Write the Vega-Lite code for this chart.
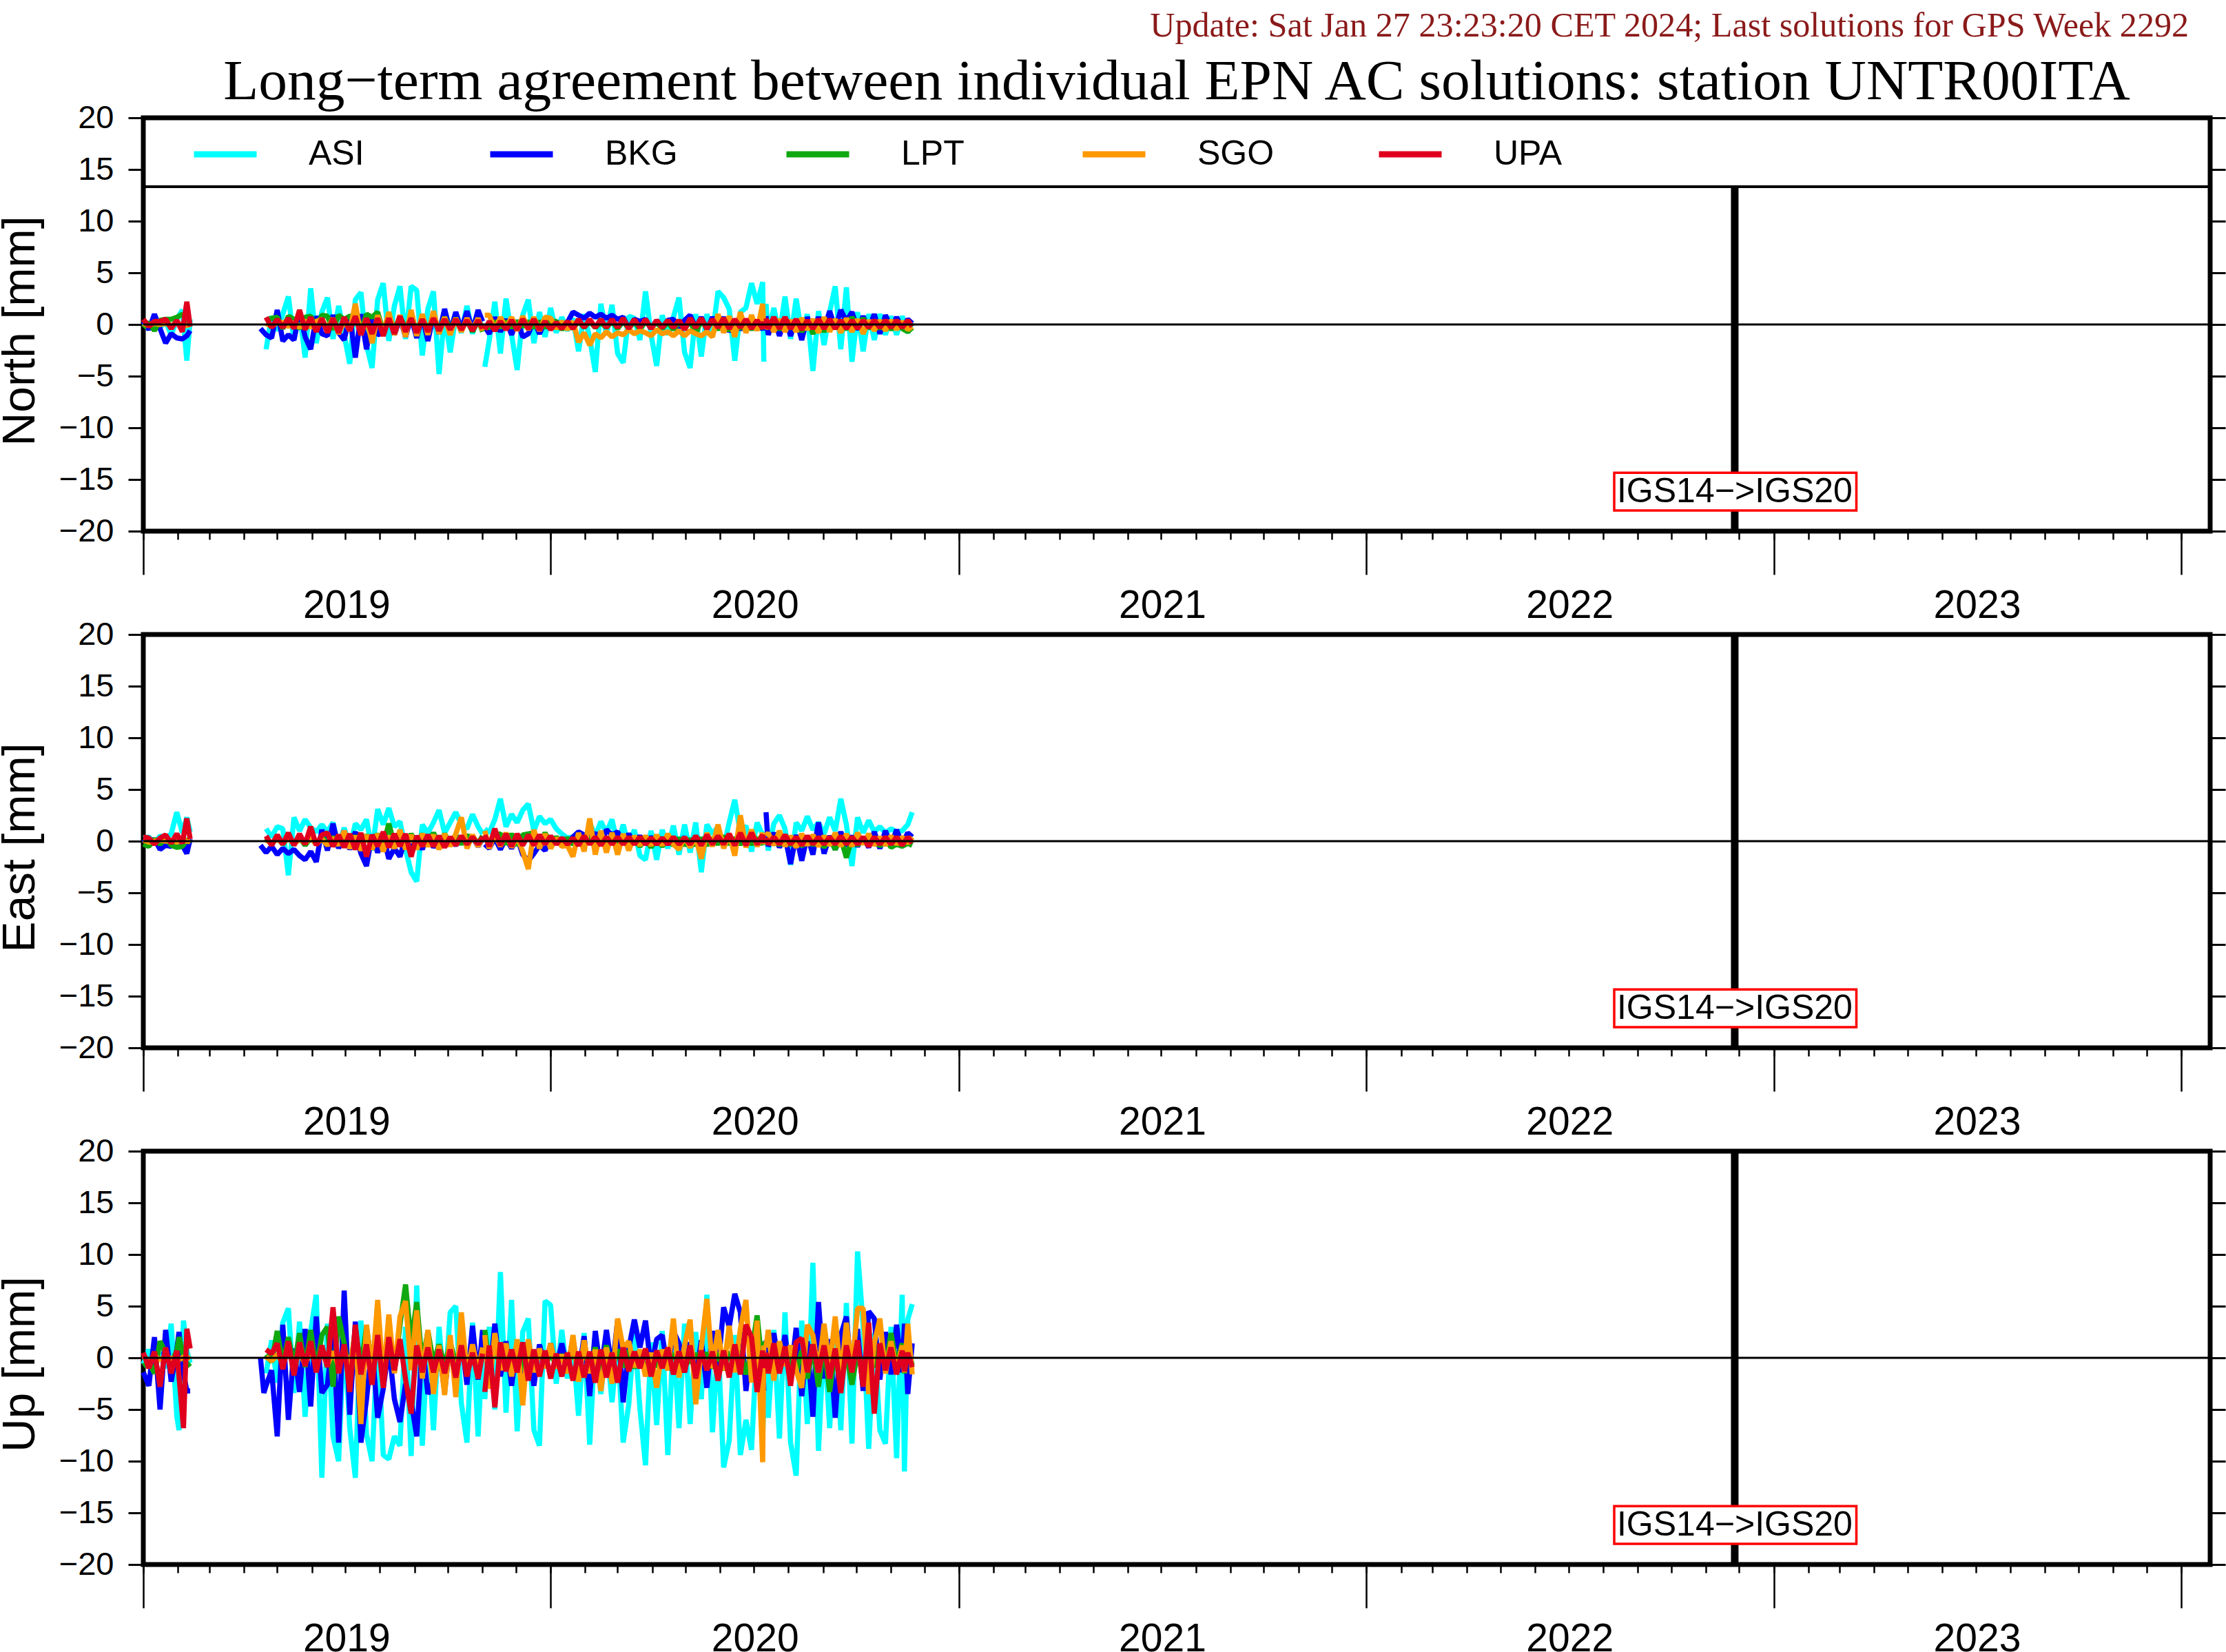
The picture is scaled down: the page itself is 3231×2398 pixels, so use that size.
{
"$schema":"https://vega.github.io/schema/vega-lite/v6.json",
"autosize":{"type":"none"},
"bounds":"flush",
"padding":{"left":208,"top":171,"right":3023,"bottom":2227},
"background":"white",
"config":{"view":{"stroke":"black","strokeWidth":7},"axis":{"grid":false,"domain":false,"tickColor":"black","labelColor":"black"},"font":"Liberation Sans"},
"spacing":150,
"resolve":{"legend":{"color":"independent"}},
"datasets":{
"box":[{"t":"2022-08-11","t2":"2023-03-16","mm":-14.35,"mm2":-18,"x0":"2022-11-27","y0":-16.2,"label":"IGS14−>IGS20"}],
"north":[
{"t":"2019-01-01","ASI":0.2,"BKG":0.3,"LPT":-0.3,"SGO":0.1,"UPA":0.5},
{"t":"2019-01-06","ASI":-0.2,"BKG":-0.5,"LPT":0.2,"SGO":-0.1,"UPA":-0.2},
{"t":"2019-01-11","ASI":0.3,"BKG":1,"LPT":-0.6,"SGO":0.1,"UPA":0.3},
{"t":"2019-01-16","ASI":-0.3,"BKG":-0.4,"LPT":0.4,"SGO":0,"UPA":0.3},
{"t":"2019-01-21","ASI":0.3,"BKG":-1.8,"LPT":0.5,"SGO":0.1,"UPA":0.5},
{"t":"2019-01-26","ASI":-1,"BKG":-0.9,"LPT":0.5,"SGO":-0.1,"UPA":-0.4},
{"t":"2019-01-31","ASI":0.5,"BKG":-1.3,"LPT":0.7,"SGO":0.1,"UPA":0.4},
{"t":"2019-02-05","ASI":1.4,"BKG":-1.4,"LPT":1,"SGO":0,"UPA":-0.7},
{"t":"2019-02-09","ASI":-3.5,"BKG":-1.1,"LPT":0.4,"SGO":-0.1,"UPA":2.2},
{"t":"2019-02-12","ASI":0.5,"BKG":-0.6,"LPT":0.2,"SGO":0,"UPA":-0.2},
{"t":"2019-03-01","ASI":null,"BKG":null,"LPT":null,"SGO":null,"UPA":null},
{"t":"2019-04-16","ASI":null,"BKG":-0.4,"LPT":null,"SGO":null,"UPA":null},
{"t":"2019-04-21","ASI":-2.4,"BKG":-1,"LPT":0.4,"SGO":0.1,"UPA":0.7},
{"t":"2019-04-26","ASI":0.8,"BKG":-1.3,"LPT":0.6,"SGO":-0.2,"UPA":-0.3},
{"t":"2019-05-01","ASI":-0.6,"BKG":1.4,"LPT":0.7,"SGO":0.2,"UPA":0.5},
{"t":"2019-05-06","ASI":1,"BKG":-1.6,"LPT":-0.4,"SGO":0.2,"UPA":-0.3},
{"t":"2019-05-11","ASI":2.7,"BKG":-1,"LPT":0.8,"SGO":-0.2,"UPA":0.6},
{"t":"2019-05-16","ASI":-1.5,"BKG":-1.5,"LPT":0.5,"SGO":0.2,"UPA":-0.4},
{"t":"2019-05-21","ASI":1.2,"BKG":1.2,"LPT":-0.4,"SGO":-0.3,"UPA":1.4},
{"t":"2019-05-26","ASI":-3.2,"BKG":-1.2,"LPT":0.7,"SGO":0.4,"UPA":-0.5},
{"t":"2019-05-31","ASI":3.5,"BKG":-2.4,"LPT":0.8,"SGO":-0.3,"UPA":0.7},
{"t":"2019-06-05","ASI":-1.8,"BKG":0.8,"LPT":-0.3,"SGO":0.3,"UPA":-0.7},
{"t":"2019-06-10","ASI":1.2,"BKG":-0.9,"LPT":0.9,"SGO":0.5,"UPA":0.6},
{"t":"2019-06-15","ASI":2.6,"BKG":-1.1,"LPT":0.8,"SGO":-0.4,"UPA":-0.8},
{"t":"2019-06-20","ASI":-1.4,"BKG":0.9,"LPT":-0.5,"SGO":0.6,"UPA":0.6},
{"t":"2019-06-25","ASI":1.8,"BKG":-0.8,"LPT":0.9,"SGO":-0.9,"UPA":-0.8},
{"t":"2019-06-30","ASI":-1,"BKG":-1.5,"LPT":0.5,"SGO":0.4,"UPA":0.7},
{"t":"2019-07-05","ASI":-3.8,"BKG":0.9,"LPT":0.8,"SGO":-0.6,"UPA":-0.6},
{"t":"2019-07-10","ASI":2.4,"BKG":-3.2,"LPT":0.7,"SGO":2,"UPA":0.8},
{"t":"2019-07-15","ASI":3.1,"BKG":1,"LPT":-0.6,"SGO":-1,"UPA":-1},
{"t":"2019-07-20","ASI":-2,"BKG":-2.4,"LPT":1,"SGO":0.6,"UPA":0.6},
{"t":"2019-07-25","ASI":-4.2,"BKG":0.7,"LPT":0.7,"SGO":-1.8,"UPA":-0.9},
{"t":"2019-07-30","ASI":2.4,"BKG":-1,"LPT":1.2,"SGO":0.9,"UPA":0.6},
{"t":"2019-08-04","ASI":4,"BKG":-0.8,"LPT":-0.7,"SGO":-0.9,"UPA":-1.1},
{"t":"2019-08-09","ASI":-1.6,"BKG":0.8,"LPT":0.9,"SGO":1.2,"UPA":0.6},
{"t":"2019-08-14","ASI":1.8,"BKG":-1,"LPT":-0.5,"SGO":-1,"UPA":-0.9},
{"t":"2019-08-19","ASI":3.7,"BKG":0.6,"LPT":0.8,"SGO":0.9,"UPA":0.8},
{"t":"2019-08-24","ASI":-1.4,"BKG":-1.2,"LPT":-0.4,"SGO":-1.2,"UPA":-0.7},
{"t":"2019-08-29","ASI":3.7,"BKG":0.7,"LPT":0.7,"SGO":1.4,"UPA":0.6},
{"t":"2019-09-03","ASI":3.3,"BKG":-1.3,"LPT":-0.6,"SGO":-1.1,"UPA":-0.8},
{"t":"2019-09-08","ASI":-3,"BKG":0.8,"LPT":0.6,"SGO":1,"UPA":0.5},
{"t":"2019-09-13","ASI":1.5,"BKG":-1.6,"LPT":-0.5,"SGO":-1,"UPA":-0.7},
{"t":"2019-09-18","ASI":3.2,"BKG":0.9,"LPT":0.6,"SGO":1.3,"UPA":0.6},
{"t":"2019-09-23","ASI":-4.8,"BKG":-0.9,"LPT":-0.5,"SGO":-0.9,"UPA":-0.6},
{"t":"2019-09-28","ASI":1,"BKG":1.5,"LPT":0.7,"SGO":0.7,"UPA":0.5},
{"t":"2019-10-03","ASI":-2.7,"BKG":-0.7,"LPT":-0.4,"SGO":-1,"UPA":-0.5},
{"t":"2019-10-08","ASI":0.8,"BKG":1.2,"LPT":0.6,"SGO":0.6,"UPA":0.5},
{"t":"2019-10-13","ASI":-0.8,"BKG":-0.5,"LPT":-0.5,"SGO":-0.7,"UPA":-0.5},
{"t":"2019-10-18","ASI":1.8,"BKG":1.3,"LPT":0.4,"SGO":0.6,"UPA":0.4},
{"t":"2019-10-23","ASI":-0.9,"BKG":-0.6,"LPT":-0.7,"SGO":-0.5,"UPA":-0.6},
{"t":"2019-10-28","ASI":1,"BKG":1.4,"LPT":0.4,"SGO":0.6,"UPA":0.4},
{"t":"2019-11-01","ASI":-0.6,"BKG":0.3,"LPT":-0.7,"SGO":-0.6,"UPA":-0.4},
{"t":"2019-11-02","ASI":null,"BKG":null,"LPT":null,"SGO":null,"UPA":null},
{"t":"2019-11-03","ASI":-4.1,"BKG":-0.2,"LPT":-0.2,"SGO":0.9,"UPA":-0.5},
{"t":"2019-11-07","ASI":-1.5,"BKG":-0.9,"LPT":-0.3,"SGO":0.9,"UPA":0.3},
{"t":"2019-11-12","ASI":2.2,"BKG":0.7,"LPT":0.3,"SGO":-0.5,"UPA":-0.6},
{"t":"2019-11-17","ASI":-2.8,"BKG":-0.7,"LPT":-0.3,"SGO":0.7,"UPA":0.3},
{"t":"2019-11-22","ASI":2.5,"BKG":0.5,"LPT":0.3,"SGO":-0.4,"UPA":-0.5},
{"t":"2019-11-27","ASI":-1,"BKG":-1,"LPT":-0.3,"SGO":0.7,"UPA":0.4},
{"t":"2019-12-02","ASI":-4.4,"BKG":0.4,"LPT":0.3,"SGO":-0.6,"UPA":-0.5},
{"t":"2019-12-07","ASI":0.9,"BKG":-1.2,"LPT":-0.2,"SGO":0.8,"UPA":0.5},
{"t":"2019-12-12","ASI":2.4,"BKG":-0.9,"LPT":0.3,"SGO":-0.5,"UPA":-0.4},
{"t":"2019-12-17","ASI":-1.8,"BKG":0.4,"LPT":-0.3,"SGO":0.7,"UPA":0.5},
{"t":"2019-12-22","ASI":1.2,"BKG":-0.9,"LPT":0.3,"SGO":-0.6,"UPA":-0.5},
{"t":"2019-12-27","ASI":-1.2,"BKG":0.3,"LPT":-0.3,"SGO":0.7,"UPA":0.3},
{"t":"2020-01-01","ASI":1.6,"BKG":-0.4,"LPT":0.3,"SGO":0.6,"UPA":-0.5},
{"t":"2020-01-06","ASI":-0.8,"BKG":0.3,"LPT":0.3,"SGO":-0.4,"UPA":0.2},
{"t":"2020-01-11","ASI":0.7,"BKG":-0.3,"LPT":-0.5,"SGO":0.3,"UPA":-0.4},
{"t":"2020-01-16","ASI":-0.6,"BKG":0.2,"LPT":0.2,"SGO":-0.5,"UPA":0.3},
{"t":"2020-01-21","ASI":0.6,"BKG":1.2,"LPT":-0.4,"SGO":0.3,"UPA":-0.4},
{"t":"2020-01-26","ASI":-2.6,"BKG":0.9,"LPT":0.3,"SGO":-1.7,"UPA":0.5},
{"t":"2020-01-31","ASI":1,"BKG":0.6,"LPT":-0.3,"SGO":-0.8,"UPA":-0.3},
{"t":"2020-02-05","ASI":-1.3,"BKG":1.1,"LPT":0.3,"SGO":-2,"UPA":0.5},
{"t":"2020-02-10","ASI":-4.6,"BKG":0.7,"LPT":-0.3,"SGO":-0.9,"UPA":-0.3},
{"t":"2020-02-15","ASI":2,"BKG":1,"LPT":0.2,"SGO":-1.3,"UPA":0.5},
{"t":"2020-02-20","ASI":-1,"BKG":0.6,"LPT":-0.3,"SGO":-0.7,"UPA":-0.3},
{"t":"2020-02-25","ASI":1.9,"BKG":0.9,"LPT":0.3,"SGO":-1.2,"UPA":0.5},
{"t":"2020-03-01","ASI":-2.8,"BKG":0.5,"LPT":-0.4,"SGO":-0.8,"UPA":-0.3},
{"t":"2020-03-06","ASI":-3.7,"BKG":0.7,"LPT":0.3,"SGO":-1,"UPA":0.6},
{"t":"2020-03-11","ASI":0.8,"BKG":-0.4,"LPT":-0.4,"SGO":-0.5,"UPA":-0.4},
{"t":"2020-03-16","ASI":0.6,"BKG":0.5,"LPT":0.3,"SGO":-0.9,"UPA":0.5},
{"t":"2020-03-21","ASI":-1.5,"BKG":0.3,"LPT":-0.5,"SGO":-0.6,"UPA":-0.3},
{"t":"2020-03-26","ASI":3.2,"BKG":0.5,"LPT":0.3,"SGO":-0.8,"UPA":0.5},
{"t":"2020-03-31","ASI":-1,"BKG":-0.4,"LPT":-0.3,"SGO":-1.1,"UPA":-0.4},
{"t":"2020-04-05","ASI":-4,"BKG":0.4,"LPT":0.2,"SGO":-0.5,"UPA":0.4},
{"t":"2020-04-10","ASI":0.9,"BKG":-0.3,"LPT":-0.4,"SGO":-0.9,"UPA":-0.3},
{"t":"2020-04-15","ASI":-1,"BKG":0.4,"LPT":0.2,"SGO":-0.7,"UPA":0.4},
{"t":"2020-04-20","ASI":0.7,"BKG":0.5,"LPT":-0.5,"SGO":-1.1,"UPA":-0.3},
{"t":"2020-04-25","ASI":2.6,"BKG":-0.3,"LPT":0.2,"SGO":-0.6,"UPA":0.4},
{"t":"2020-04-30","ASI":-2.7,"BKG":0.4,"LPT":-0.4,"SGO":-1.1,"UPA":-0.5},
{"t":"2020-05-05","ASI":-4.2,"BKG":0.9,"LPT":0.3,"SGO":-0.6,"UPA":0.6},
{"t":"2020-05-10","ASI":1,"BKG":-0.3,"LPT":-0.9,"SGO":-0.9,"UPA":-0.3},
{"t":"2020-05-15","ASI":-3.1,"BKG":0.7,"LPT":0.4,"SGO":-1.1,"UPA":0.6},
{"t":"2020-05-20","ASI":1,"BKG":-0.5,"LPT":-0.4,"SGO":-0.7,"UPA":-0.4},
{"t":"2020-05-25","ASI":-1,"BKG":0.7,"LPT":0.3,"SGO":-1.2,"UPA":0.5},
{"t":"2020-05-30","ASI":3.2,"BKG":-0.4,"LPT":-0.5,"SGO":1,"UPA":-0.3},
{"t":"2020-06-04","ASI":2.6,"BKG":0.7,"LPT":0.3,"SGO":-0.8,"UPA":0.6},
{"t":"2020-06-09","ASI":1.5,"BKG":-0.7,"LPT":-0.6,"SGO":0.8,"UPA":-0.4},
{"t":"2020-06-14","ASI":-3.5,"BKG":0.4,"LPT":0.2,"SGO":-1.2,"UPA":0.5},
{"t":"2020-06-19","ASI":1.2,"BKG":-0.5,"LPT":-0.4,"SGO":1.2,"UPA":-0.3},
{"t":"2020-06-24","ASI":1.6,"BKG":0.3,"LPT":0.3,"SGO":-0.8,"UPA":0.5},
{"t":"2020-06-29","ASI":4,"BKG":-0.4,"LPT":-0.5,"SGO":0.9,"UPA":-0.4},
{"t":"2020-07-04","ASI":2,"BKG":0.3,"LPT":0.3,"SGO":-0.6,"UPA":0.4},
{"t":"2020-07-09","ASI":4.1,"BKG":-0.5,"LPT":-0.4,"SGO":2,"UPA":-0.4},
{"t":"2020-07-10","ASI":-3.6,"BKG":-0.2,"LPT":0.2,"SGO":-0.4,"UPA":0.3},
{"t":"2020-07-11","ASI":null,"BKG":null,"LPT":null,"SGO":null,"UPA":null},
{"t":"2020-07-12","ASI":2,"BKG":0.8,"LPT":0.3,"SGO":-0.5,"UPA":0.6},
{"t":"2020-07-14","ASI":-1,"BKG":-1,"LPT":-0.3,"SGO":0.4,"UPA":-0.4},
{"t":"2020-07-19","ASI":1.6,"BKG":0.7,"LPT":0.3,"SGO":-0.7,"UPA":0.7},
{"t":"2020-07-24","ASI":-1,"BKG":-1.1,"LPT":-0.5,"SGO":0.5,"UPA":-0.4},
{"t":"2020-07-29","ASI":2.7,"BKG":0.6,"LPT":0.3,"SGO":-0.7,"UPA":0.7},
{"t":"2020-08-03","ASI":-1.4,"BKG":-1.1,"LPT":-0.4,"SGO":0.4,"UPA":-0.4},
{"t":"2020-08-08","ASI":2.5,"BKG":0.5,"LPT":0.3,"SGO":-0.7,"UPA":0.5},
{"t":"2020-08-13","ASI":-0.9,"BKG":-1.5,"LPT":-0.7,"SGO":0.6,"UPA":-0.5},
{"t":"2020-08-18","ASI":1,"BKG":0.7,"LPT":0.4,"SGO":-0.5,"UPA":0.4},
{"t":"2020-08-23","ASI":-4.5,"BKG":-0.6,"LPT":-0.9,"SGO":0.5,"UPA":-0.4},
{"t":"2020-08-28","ASI":1.3,"BKG":0.7,"LPT":0.3,"SGO":-0.8,"UPA":0.5},
{"t":"2020-09-02","ASI":-2,"BKG":-0.5,"LPT":-0.7,"SGO":0.7,"UPA":-0.4},
{"t":"2020-09-07","ASI":1.2,"BKG":1.3,"LPT":0.3,"SGO":-0.7,"UPA":0.5},
{"t":"2020-09-12","ASI":3.7,"BKG":-0.4,"LPT":-0.4,"SGO":0.5,"UPA":-0.4},
{"t":"2020-09-17","ASI":-2.4,"BKG":1.4,"LPT":0.4,"SGO":-0.8,"UPA":0.4},
{"t":"2020-09-22","ASI":3.6,"BKG":0.3,"LPT":-0.5,"SGO":0.6,"UPA":-0.4},
{"t":"2020-09-27","ASI":-3.6,"BKG":1.2,"LPT":0.7,"SGO":-0.7,"UPA":0.4},
{"t":"2020-10-02","ASI":1.2,"BKG":-0.5,"LPT":-0.4,"SGO":0.5,"UPA":-0.4},
{"t":"2020-10-07","ASI":-2.6,"BKG":0.8,"LPT":0.6,"SGO":-0.9,"UPA":0.4},
{"t":"2020-10-12","ASI":1,"BKG":-0.4,"LPT":-0.4,"SGO":0.4,"UPA":-0.3},
{"t":"2020-10-17","ASI":-1.5,"BKG":1,"LPT":0.3,"SGO":-0.6,"UPA":0.4},
{"t":"2020-10-22","ASI":1,"BKG":-0.9,"LPT":-0.4,"SGO":0.4,"UPA":-0.3},
{"t":"2020-10-27","ASI":-1,"BKG":0.9,"LPT":0.3,"SGO":-0.6,"UPA":0.4},
{"t":"2020-11-01","ASI":0.8,"BKG":-0.3,"LPT":-0.5,"SGO":0.4,"UPA":-0.3},
{"t":"2020-11-06","ASI":-1,"BKG":0.7,"LPT":0.2,"SGO":-0.5,"UPA":0.4},
{"t":"2020-11-11","ASI":0.8,"BKG":-0.3,"LPT":-0.4,"SGO":0.3,"UPA":-0.3},
{"t":"2020-11-16","ASI":-0.8,"BKG":0.5,"LPT":-0.7,"SGO":-0.5,"UPA":0.4},
{"t":"2020-11-20","ASI":0.2,"BKG":0.1,"LPT":-0.3,"SGO":-0.2,"UPA":-0.2}
],
"east":[
{"t":"2019-01-01","ASI":0.3,"BKG":0.2,"LPT":-0.3,"SGO":0.1,"UPA":0.4},
{"t":"2019-01-06","ASI":0.4,"BKG":-0.3,"LPT":-0.5,"SGO":-0.1,"UPA":0.3},
{"t":"2019-01-11","ASI":-0.2,"BKG":0.2,"LPT":0.2,"SGO":0,"UPA":-0.3},
{"t":"2019-01-16","ASI":0.5,"BKG":-0.8,"LPT":-0.3,"SGO":0.1,"UPA":0.3},
{"t":"2019-01-21","ASI":0.3,"BKG":-0.4,"LPT":0.3,"SGO":0,"UPA":0.6},
{"t":"2019-01-26","ASI":0.7,"BKG":-0.5,"LPT":-0.4,"SGO":0.1,"UPA":-0.2},
{"t":"2019-01-31","ASI":2.8,"BKG":0.3,"LPT":-0.6,"SGO":-0.1,"UPA":0.7},
{"t":"2019-02-05","ASI":0.8,"BKG":-0.4,"LPT":-0.5,"SGO":0.1,"UPA":-0.2},
{"t":"2019-02-09","ASI":2.3,"BKG":-1.2,"LPT":0.2,"SGO":0,"UPA":2.2},
{"t":"2019-02-12","ASI":0.9,"BKG":0.2,"LPT":-0.2,"SGO":0,"UPA":0.2},
{"t":"2019-03-01","ASI":null,"BKG":null,"LPT":null,"SGO":null,"UPA":null},
{"t":"2019-04-16","ASI":null,"BKG":-0.4,"LPT":null,"SGO":null,"UPA":null},
{"t":"2019-04-21","ASI":1.2,"BKG":-1.1,"LPT":0.3,"SGO":0.1,"UPA":0.5},
{"t":"2019-04-26","ASI":0.4,"BKG":-0.5,"LPT":-0.3,"SGO":-0.2,"UPA":-0.4},
{"t":"2019-05-01","ASI":1.4,"BKG":-1.3,"LPT":0.3,"SGO":0.2,"UPA":0.6},
{"t":"2019-05-06","ASI":1.2,"BKG":-0.7,"LPT":-0.3,"SGO":-0.2,"UPA":-0.3},
{"t":"2019-05-11","ASI":-3.3,"BKG":-1.2,"LPT":0.4,"SGO":0.3,"UPA":0.8},
{"t":"2019-05-16","ASI":2.3,"BKG":-0.8,"LPT":-0.3,"SGO":-0.3,"UPA":-0.4},
{"t":"2019-05-21","ASI":1,"BKG":-1.4,"LPT":0.3,"SGO":0.2,"UPA":0.7},
{"t":"2019-05-26","ASI":2.1,"BKG":-1.8,"LPT":-0.4,"SGO":-0.2,"UPA":-0.3},
{"t":"2019-05-31","ASI":1.3,"BKG":-1,"LPT":0.3,"SGO":0.3,"UPA":1.4},
{"t":"2019-06-05","ASI":0.9,"BKG":-2,"LPT":-0.3,"SGO":-0.3,"UPA":-0.4},
{"t":"2019-06-10","ASI":1.6,"BKG":1.1,"LPT":0.5,"SGO":0.2,"UPA":0.6},
{"t":"2019-06-15","ASI":0.9,"BKG":-0.9,"LPT":-0.3,"SGO":-0.4,"UPA":0.8},
{"t":"2019-06-20","ASI":1.8,"BKG":1.7,"LPT":0.4,"SGO":0.3,"UPA":-0.5},
{"t":"2019-06-25","ASI":-0.6,"BKG":-0.7,"LPT":-0.3,"SGO":-0.4,"UPA":0.6},
{"t":"2019-06-30","ASI":1.3,"BKG":1,"LPT":0.5,"SGO":1,"UPA":-0.6},
{"t":"2019-07-05","ASI":-0.7,"BKG":-0.8,"LPT":-0.4,"SGO":-0.7,"UPA":0.7},
{"t":"2019-07-10","ASI":1.7,"BKG":0.9,"LPT":0.5,"SGO":0.5,"UPA":-0.8},
{"t":"2019-07-15","ASI":1.1,"BKG":-1.2,"LPT":-0.4,"SGO":-0.9,"UPA":0.8},
{"t":"2019-07-20","ASI":2.1,"BKG":-2.4,"LPT":0.6,"SGO":0.6,"UPA":-1.5},
{"t":"2019-07-25","ASI":-0.9,"BKG":0.6,"LPT":-0.4,"SGO":-0.8,"UPA":0.6},
{"t":"2019-07-30","ASI":3.1,"BKG":-1.1,"LPT":0.7,"SGO":0.7,"UPA":-0.5},
{"t":"2019-08-04","ASI":1.6,"BKG":0.5,"LPT":-0.4,"SGO":-1,"UPA":0.9},
{"t":"2019-08-09","ASI":3.2,"BKG":-1.7,"LPT":1.7,"SGO":0.5,"UPA":-0.6},
{"t":"2019-08-14","ASI":1.4,"BKG":-0.7,"LPT":-0.3,"SGO":-0.7,"UPA":0.7},
{"t":"2019-08-19","ASI":1.9,"BKG":-1.5,"LPT":0.6,"SGO":1.1,"UPA":-0.5},
{"t":"2019-08-24","ASI":-0.8,"BKG":0.4,"LPT":-0.5,"SGO":-0.8,"UPA":0.7},
{"t":"2019-08-29","ASI":-3,"BKG":-0.9,"LPT":0.7,"SGO":0.6,"UPA":-1.5},
{"t":"2019-09-03","ASI":-3.9,"BKG":0.5,"LPT":-0.3,"SGO":-0.8,"UPA":0.5},
{"t":"2019-09-08","ASI":1.6,"BKG":-0.8,"LPT":0.7,"SGO":0.7,"UPA":-0.5},
{"t":"2019-09-13","ASI":0.8,"BKG":0.6,"LPT":-0.3,"SGO":-0.5,"UPA":0.6},
{"t":"2019-09-18","ASI":1.8,"BKG":-0.6,"LPT":0.8,"SGO":0.6,"UPA":-0.5},
{"t":"2019-09-23","ASI":3,"BKG":0.3,"LPT":-0.3,"SGO":-0.8,"UPA":0.5},
{"t":"2019-09-28","ASI":0.8,"BKG":-0.4,"LPT":0.7,"SGO":0.7,"UPA":-0.6},
{"t":"2019-10-03","ASI":1.8,"BKG":0.2,"LPT":-0.2,"SGO":-0.5,"UPA":0.4},
{"t":"2019-10-08","ASI":2.8,"BKG":-0.4,"LPT":0.6,"SGO":0.7,"UPA":-0.4},
{"t":"2019-10-13","ASI":1.6,"BKG":0.3,"LPT":-0.3,"SGO":2.3,"UPA":0.5},
{"t":"2019-10-18","ASI":1.2,"BKG":-0.3,"LPT":0.5,"SGO":-0.7,"UPA":-0.3},
{"t":"2019-10-23","ASI":2.6,"BKG":0.4,"LPT":0.4,"SGO":0.6,"UPA":0.4},
{"t":"2019-10-28","ASI":1.4,"BKG":-0.5,"LPT":-0.2,"SGO":-0.5,"UPA":-0.3},
{"t":"2019-11-01","ASI":0.7,"BKG":0.2,"LPT":0.5,"SGO":0.3,"UPA":0.4},
{"t":"2019-11-02","ASI":null,"BKG":null,"LPT":null,"SGO":null,"UPA":null},
{"t":"2019-11-03","ASI":1.2,"BKG":-0.3,"LPT":0.3,"SGO":1,"UPA":0.6},
{"t":"2019-11-07","ASI":0.8,"BKG":-0.7,"LPT":-0.2,"SGO":-0.7,"UPA":-0.5},
{"t":"2019-11-12","ASI":2.1,"BKG":0.3,"LPT":0.6,"SGO":0.7,"UPA":1.2},
{"t":"2019-11-17","ASI":4.1,"BKG":-0.8,"LPT":0.7,"SGO":-0.5,"UPA":-0.4},
{"t":"2019-11-22","ASI":1.4,"BKG":0.3,"LPT":-0.3,"SGO":0.8,"UPA":0.7},
{"t":"2019-11-27","ASI":2.6,"BKG":-0.7,"LPT":0.7,"SGO":-0.6,"UPA":-0.5},
{"t":"2019-12-02","ASI":1.8,"BKG":0.3,"LPT":-0.4,"SGO":0.4,"UPA":0.7},
{"t":"2019-12-07","ASI":3,"BKG":-1.3,"LPT":0.6,"SGO":-1,"UPA":-0.4},
{"t":"2019-12-12","ASI":3.6,"BKG":-1.9,"LPT":0.7,"SGO":-2.7,"UPA":0.6},
{"t":"2019-12-17","ASI":1,"BKG":-1.2,"LPT":0.8,"SGO":1.1,"UPA":-0.4},
{"t":"2019-12-22","ASI":2.4,"BKG":-0.4,"LPT":-0.3,"SGO":-0.7,"UPA":0.6},
{"t":"2019-12-27","ASI":1.7,"BKG":-0.9,"LPT":0.8,"SGO":0.7,"UPA":-0.3},
{"t":"2020-01-01","ASI":2.1,"BKG":0.3,"LPT":-0.3,"SGO":-0.7,"UPA":0.5},
{"t":"2020-01-06","ASI":1.2,"BKG":-0.2,"LPT":0.4,"SGO":0.3,"UPA":-0.3},
{"t":"2020-01-11","ASI":0.7,"BKG":0.1,"LPT":-0.2,"SGO":-0.5,"UPA":0.3},
{"t":"2020-01-16","ASI":0.3,"BKG":-0.2,"LPT":0.3,"SGO":-0.4,"UPA":-0.3},
{"t":"2020-01-21","ASI":0.4,"BKG":0.4,"LPT":-0.3,"SGO":-1.5,"UPA":0.3},
{"t":"2020-01-26","ASI":0.3,"BKG":0.9,"LPT":0.2,"SGO":0.8,"UPA":-0.4},
{"t":"2020-01-31","ASI":-0.6,"BKG":0.6,"LPT":-0.4,"SGO":-1,"UPA":0.5},
{"t":"2020-02-05","ASI":1.8,"BKG":0.3,"LPT":0.3,"SGO":2.2,"UPA":-0.3},
{"t":"2020-02-10","ASI":0.5,"BKG":0.8,"LPT":-0.3,"SGO":-1.3,"UPA":0.4},
{"t":"2020-02-15","ASI":1.9,"BKG":-0.2,"LPT":0.2,"SGO":1,"UPA":-0.4},
{"t":"2020-02-20","ASI":0.8,"BKG":1.1,"LPT":-0.3,"SGO":-1.1,"UPA":0.4},
{"t":"2020-02-25","ASI":2.1,"BKG":0.6,"LPT":0.3,"SGO":0.8,"UPA":-0.3},
{"t":"2020-03-01","ASI":-0.4,"BKG":0.9,"LPT":-0.2,"SGO":-1.3,"UPA":0.4},
{"t":"2020-03-06","ASI":1.6,"BKG":-0.2,"LPT":0.2,"SGO":0.7,"UPA":-0.3},
{"t":"2020-03-11","ASI":-0.5,"BKG":0.7,"LPT":-0.3,"SGO":-0.9,"UPA":0.4},
{"t":"2020-03-16","ASI":1.1,"BKG":-0.2,"LPT":0.2,"SGO":0.5,"UPA":-0.3},
{"t":"2020-03-21","ASI":-1.4,"BKG":0.5,"LPT":-0.5,"SGO":-0.4,"UPA":0.4},
{"t":"2020-03-26","ASI":-1.8,"BKG":-0.3,"LPT":0.2,"SGO":0.5,"UPA":-0.3},
{"t":"2020-03-31","ASI":1,"BKG":0.4,"LPT":-0.6,"SGO":-0.4,"UPA":0.3},
{"t":"2020-04-05","ASI":-1.8,"BKG":-0.2,"LPT":0.2,"SGO":0.6,"UPA":-0.3},
{"t":"2020-04-10","ASI":1.1,"BKG":0.3,"LPT":-0.5,"SGO":-0.4,"UPA":0.3},
{"t":"2020-04-15","ASI":-0.7,"BKG":-0.3,"LPT":0.2,"SGO":0.7,"UPA":-0.3},
{"t":"2020-04-20","ASI":1.5,"BKG":0.3,"LPT":-0.4,"SGO":-0.3,"UPA":0.4},
{"t":"2020-04-25","ASI":-1.3,"BKG":-0.2,"LPT":0.3,"SGO":-0.8,"UPA":-0.3},
{"t":"2020-04-30","ASI":1.6,"BKG":0.4,"LPT":-0.4,"SGO":0.4,"UPA":0.3},
{"t":"2020-05-05","ASI":-1.1,"BKG":-0.3,"LPT":0.2,"SGO":-0.6,"UPA":-0.3},
{"t":"2020-05-10","ASI":1.8,"BKG":0.2,"LPT":-0.4,"SGO":0.4,"UPA":0.5},
{"t":"2020-05-15","ASI":-3,"BKG":-0.3,"LPT":0.3,"SGO":-1.7,"UPA":-0.4},
{"t":"2020-05-20","ASI":1.6,"BKG":0.3,"LPT":-0.4,"SGO":0.8,"UPA":0.6},
{"t":"2020-05-25","ASI":0.7,"BKG":-0.3,"LPT":0.3,"SGO":-0.5,"UPA":-0.3},
{"t":"2020-05-30","ASI":1.4,"BKG":0.9,"LPT":-0.3,"SGO":1.6,"UPA":0.5},
{"t":"2020-06-04","ASI":-0.6,"BKG":-0.4,"LPT":0.5,"SGO":-0.7,"UPA":-0.3},
{"t":"2020-06-09","ASI":1.8,"BKG":0.4,"LPT":-0.3,"SGO":0.7,"UPA":0.7},
{"t":"2020-06-14","ASI":4,"BKG":-0.3,"LPT":0.3,"SGO":-1.4,"UPA":-0.4},
{"t":"2020-06-19","ASI":0.8,"BKG":0.4,"LPT":-0.3,"SGO":2.5,"UPA":0.8},
{"t":"2020-06-24","ASI":1.5,"BKG":-0.2,"LPT":0.3,"SGO":-0.6,"UPA":-0.4},
{"t":"2020-06-29","ASI":-1,"BKG":0.3,"LPT":-0.3,"SGO":1.1,"UPA":0.8},
{"t":"2020-07-04","ASI":1.8,"BKG":-0.2,"LPT":0.3,"SGO":-0.5,"UPA":-0.3},
{"t":"2020-07-09","ASI":0.6,"BKG":0.3,"LPT":-0.3,"SGO":0.8,"UPA":0.6},
{"t":"2020-07-10","ASI":0.8,"BKG":-0.2,"LPT":0.2,"SGO":-0.3,"UPA":-0.2},
{"t":"2020-07-11","ASI":null,"BKG":null,"LPT":null,"SGO":null,"UPA":null},
{"t":"2020-07-12","ASI":0.9,"BKG":2.8,"LPT":0.3,"SGO":0.5,"UPA":0.3},
{"t":"2020-07-14","ASI":-0.9,"BKG":-0.5,"LPT":-0.3,"SGO":0.8,"UPA":-0.3},
{"t":"2020-07-19","ASI":1.7,"BKG":0.8,"LPT":0.4,"SGO":-0.4,"UPA":0.4},
{"t":"2020-07-24","ASI":2.5,"BKG":-0.6,"LPT":-0.4,"SGO":1,"UPA":-0.3},
{"t":"2020-07-29","ASI":1.2,"BKG":0.5,"LPT":0.4,"SGO":-0.5,"UPA":0.6},
{"t":"2020-08-03","ASI":-2.3,"BKG":-2.2,"LPT":-0.4,"SGO":0.5,"UPA":-0.3},
{"t":"2020-08-08","ASI":1.8,"BKG":0.6,"LPT":0.3,"SGO":-0.6,"UPA":0.4},
{"t":"2020-08-13","ASI":1,"BKG":-1.9,"LPT":-0.5,"SGO":0.7,"UPA":-0.4},
{"t":"2020-08-18","ASI":2.4,"BKG":0.5,"LPT":0.4,"SGO":-0.4,"UPA":0.5},
{"t":"2020-08-23","ASI":1.1,"BKG":-1.3,"LPT":-0.4,"SGO":0.6,"UPA":-0.3},
{"t":"2020-08-28","ASI":1.8,"BKG":1.8,"LPT":0.3,"SGO":-0.5,"UPA":0.4},
{"t":"2020-09-02","ASI":0.7,"BKG":-1.2,"LPT":-0.6,"SGO":0.5,"UPA":-0.3},
{"t":"2020-09-07","ASI":2.3,"BKG":0.5,"LPT":0.3,"SGO":-0.4,"UPA":0.4},
{"t":"2020-09-12","ASI":1,"BKG":-0.8,"LPT":-0.8,"SGO":0.8,"UPA":-0.3},
{"t":"2020-09-17","ASI":4.1,"BKG":0.9,"LPT":0.3,"SGO":-0.5,"UPA":0.5},
{"t":"2020-09-22","ASI":1.6,"BKG":-0.5,"LPT":-1.6,"SGO":0.7,"UPA":-0.3},
{"t":"2020-09-27","ASI":-2.4,"BKG":0.5,"LPT":0.3,"SGO":-0.5,"UPA":0.4},
{"t":"2020-10-02","ASI":2.3,"BKG":-0.5,"LPT":-0.4,"SGO":0.8,"UPA":-0.3},
{"t":"2020-10-07","ASI":0.8,"BKG":0.4,"LPT":0.2,"SGO":-0.3,"UPA":0.4},
{"t":"2020-10-12","ASI":2,"BKG":-0.6,"LPT":-0.4,"SGO":0.7,"UPA":-0.5},
{"t":"2020-10-17","ASI":0.9,"BKG":0.9,"LPT":0.3,"SGO":-0.4,"UPA":0.4},
{"t":"2020-10-22","ASI":1.4,"BKG":-0.7,"LPT":-0.5,"SGO":0.4,"UPA":-0.3},
{"t":"2020-10-27","ASI":0.8,"BKG":1,"LPT":0.2,"SGO":-0.4,"UPA":0.4},
{"t":"2020-11-01","ASI":1.2,"BKG":-0.4,"LPT":-0.6,"SGO":0.5,"UPA":-0.3},
{"t":"2020-11-06","ASI":0.9,"BKG":1.1,"LPT":-0.3,"SGO":-0.3,"UPA":0.4},
{"t":"2020-11-11","ASI":1,"BKG":-0.3,"LPT":-0.5,"SGO":0.4,"UPA":-0.4},
{"t":"2020-11-16","ASI":1.6,"BKG":0.8,"LPT":-0.2,"SGO":-0.2,"UPA":0.4},
{"t":"2020-11-20","ASI":2.8,"BKG":0.4,"LPT":-0.4,"SGO":0.4,"UPA":-0.2}
],
"up":[
{"t":"2019-01-01","ASI":-0.6,"BKG":-1.4,"LPT":-0.8,"SGO":0.2,"UPA":0.5},
{"t":"2019-01-06","ASI":0.8,"BKG":-2.7,"LPT":-0.4,"SGO":-0.3,"UPA":-1},
{"t":"2019-01-11","ASI":-1,"BKG":2,"LPT":-1.5,"SGO":0.2,"UPA":0.6},
{"t":"2019-01-16","ASI":0.5,"BKG":-5,"LPT":1.6,"SGO":-0.2,"UPA":-2.8},
{"t":"2019-01-21","ASI":-1,"BKG":2.7,"LPT":0.5,"SGO":0.2,"UPA":1},
{"t":"2019-01-26","ASI":3.3,"BKG":-2.3,"LPT":-0.5,"SGO":-0.1,"UPA":-1.5},
{"t":"2019-01-31","ASI":-5.6,"BKG":0.8,"LPT":0.7,"SGO":0.1,"UPA":0.7},
{"t":"2019-02-02","ASI":-7,"BKG":2.5,"LPT":2,"SGO":-0.2,"UPA":-1.8},
{"t":"2019-02-06","ASI":3.6,"BKG":-1.5,"LPT":0.2,"SGO":0.1,"UPA":-6.8},
{"t":"2019-02-09","ASI":0.7,"BKG":-3.2,"LPT":-0.8,"SGO":0,"UPA":2.8},
{"t":"2019-02-12","ASI":-0.5,"BKG":-3.2,"LPT":-0.5,"SGO":0,"UPA":0.9},
{"t":"2019-03-01","ASI":null,"BKG":null,"LPT":null,"SGO":null,"UPA":null},
{"t":"2019-04-16","ASI":null,"BKG":0,"LPT":null,"SGO":null,"UPA":null},
{"t":"2019-04-19","ASI":null,"BKG":-3.4,"LPT":null,"SGO":null,"UPA":null},
{"t":"2019-04-21","ASI":-1.5,"BKG":-2.7,"LPT":0.3,"SGO":0.1,"UPA":0.8},
{"t":"2019-04-26","ASI":1.7,"BKG":-1.2,"LPT":-0.4,"SGO":-0.3,"UPA":0.4},
{"t":"2019-05-01","ASI":-2.4,"BKG":-7.6,"LPT":2.6,"SGO":0.3,"UPA":1.4},
{"t":"2019-05-06","ASI":3.4,"BKG":3.2,"LPT":-0.6,"SGO":-0.5,"UPA":-1.1},
{"t":"2019-05-11","ASI":4.8,"BKG":-6,"LPT":2,"SGO":0.5,"UPA":1.6},
{"t":"2019-05-16","ASI":-3.4,"BKG":0.9,"LPT":-0.8,"SGO":-0.4,"UPA":-1.7},
{"t":"2019-05-21","ASI":3.5,"BKG":-3.3,"LPT":2.4,"SGO":0.4,"UPA":1.5},
{"t":"2019-05-26","ASI":-5.7,"BKG":2.8,"LPT":-0.9,"SGO":-0.6,"UPA":-0.8},
{"t":"2019-05-31","ASI":2.6,"BKG":-4.7,"LPT":2.7,"SGO":0.6,"UPA":1.6},
{"t":"2019-06-05","ASI":6.1,"BKG":4,"LPT":-1.1,"SGO":-0.6,"UPA":-1.4},
{"t":"2019-06-10","ASI":-11.6,"BKG":-3.4,"LPT":2.2,"SGO":0.6,"UPA":1.2},
{"t":"2019-06-15","ASI":3.3,"BKG":-2.6,"LPT":3,"SGO":-0.7,"UPA":-0.9},
{"t":"2019-06-20","ASI":-7.6,"BKG":2.6,"LPT":-2.8,"SGO":0.6,"UPA":4.9},
{"t":"2019-06-25","ASI":-10,"BKG":-8.2,"LPT":4,"SGO":-0.8,"UPA":-1.5},
{"t":"2019-06-30","ASI":2.6,"BKG":6.5,"LPT":1.4,"SGO":0.8,"UPA":1.3},
{"t":"2019-07-05","ASI":-6.8,"BKG":-5.5,"LPT":-1.5,"SGO":-1,"UPA":-3.3},
{"t":"2019-07-10","ASI":-11.6,"BKG":3.5,"LPT":2.8,"SGO":2.4,"UPA":3.2},
{"t":"2019-07-15","ASI":3.6,"BKG":-8.2,"LPT":-0.9,"SGO":-6.4,"UPA":-1.6},
{"t":"2019-07-20","ASI":-7.4,"BKG":-4,"LPT":3,"SGO":3.2,"UPA":1.3},
{"t":"2019-07-25","ASI":-10,"BKG":1.2,"LPT":-1,"SGO":-1.5,"UPA":-2.6},
{"t":"2019-07-30","ASI":2.2,"BKG":-5.8,"LPT":2.8,"SGO":5.6,"UPA":2.2},
{"t":"2019-08-04","ASI":-9.4,"BKG":-3,"LPT":-1.2,"SGO":-2.2,"UPA":-2.9},
{"t":"2019-08-09","ASI":-9.8,"BKG":1.1,"LPT":1.8,"SGO":4.2,"UPA":2},
{"t":"2019-08-14","ASI":-7.6,"BKG":-4,"LPT":-1.4,"SGO":-1.5,"UPA":-1.2},
{"t":"2019-08-19","ASI":-8.5,"BKG":-6.2,"LPT":3.2,"SGO":4,"UPA":1.8},
{"t":"2019-08-24","ASI":3,"BKG":-2.5,"LPT":7.1,"SGO":5.5,"UPA":-2.1},
{"t":"2019-08-29","ASI":-9.5,"BKG":-4.2,"LPT":1.5,"SGO":-1.2,"UPA":-5.4},
{"t":"2019-09-03","ASI":7,"BKG":-7.6,"LPT":5.4,"SGO":4.6,"UPA":1.2},
{"t":"2019-09-08","ASI":-8.5,"BKG":1.4,"LPT":-0.6,"SGO":-2,"UPA":-1.4},
{"t":"2019-09-13","ASI":2.2,"BKG":-3.5,"LPT":2.6,"SGO":2.7,"UPA":1},
{"t":"2019-09-18","ASI":-7,"BKG":-2.2,"LPT":-0.5,"SGO":-3.5,"UPA":-1.4},
{"t":"2019-09-23","ASI":3,"BKG":0.8,"LPT":1.3,"SGO":1.2,"UPA":0.8},
{"t":"2019-09-28","ASI":-3.5,"BKG":-3.2,"LPT":-0.8,"SGO":-3.6,"UPA":-1.5},
{"t":"2019-10-03","ASI":4.4,"BKG":1.5,"LPT":1.5,"SGO":2.2,"UPA":0.8},
{"t":"2019-10-08","ASI":5,"BKG":-2.2,"LPT":-0.5,"SGO":-3.8,"UPA":-1.9},
{"t":"2019-10-13","ASI":-4.4,"BKG":1.9,"LPT":0.9,"SGO":4.4,"UPA":1.2},
{"t":"2019-10-18","ASI":-8.2,"BKG":-2.6,"LPT":-0.7,"SGO":-1.6,"UPA":-1.8},
{"t":"2019-10-23","ASI":3.4,"BKG":3.1,"LPT":0.7,"SGO":1.3,"UPA":0.5},
{"t":"2019-10-28","ASI":-7.6,"BKG":-2.1,"LPT":-0.9,"SGO":-1.3,"UPA":-2},
{"t":"2019-11-01","ASI":1.2,"BKG":2.7,"LPT":0.4,"SGO":1,"UPA":0.4},
{"t":"2019-11-02","ASI":null,"BKG":null,"LPT":null,"SGO":null,"UPA":null},
{"t":"2019-11-03","ASI":-4,"BKG":1.5,"LPT":2.7,"SGO":2.2,"UPA":-3.3},
{"t":"2019-11-07","ASI":3,"BKG":-2,"LPT":-0.8,"SGO":-3,"UPA":1.2},
{"t":"2019-11-12","ASI":-5,"BKG":3.3,"LPT":1.4,"SGO":2.4,"UPA":-4.8},
{"t":"2019-11-17","ASI":8.3,"BKG":-1.8,"LPT":-1,"SGO":-1.2,"UPA":1.5},
{"t":"2019-11-22","ASI":-5.3,"BKG":1.6,"LPT":0.9,"SGO":1.4,"UPA":-1.3},
{"t":"2019-11-27","ASI":5.6,"BKG":-2.7,"LPT":-1.3,"SGO":-1.8,"UPA":0.8},
{"t":"2019-12-02","ASI":-7.1,"BKG":1.2,"LPT":1,"SGO":1.8,"UPA":-1.4},
{"t":"2019-12-07","ASI":2.5,"BKG":-1.5,"LPT":-1.2,"SGO":-4.6,"UPA":1.5},
{"t":"2019-12-12","ASI":3.8,"BKG":1.7,"LPT":0.8,"SGO":1.8,"UPA":-2.2},
{"t":"2019-12-17","ASI":-7,"BKG":-2.7,"LPT":-0.8,"SGO":-1.4,"UPA":0.8},
{"t":"2019-12-22","ASI":-8.5,"BKG":1.3,"LPT":0.5,"SGO":0.9,"UPA":-1.8},
{"t":"2019-12-27","ASI":5.5,"BKG":-1,"LPT":-0.8,"SGO":-1,"UPA":0.7},
{"t":"2020-01-01","ASI":5.1,"BKG":1.4,"LPT":0.4,"SGO":1.4,"UPA":-2},
{"t":"2020-01-06","ASI":-2.5,"BKG":-0.9,"LPT":-0.7,"SGO":-1,"UPA":0.4},
{"t":"2020-01-11","ASI":2.7,"BKG":1.4,"LPT":0.3,"SGO":0.3,"UPA":-1.8},
{"t":"2020-01-16","ASI":-2,"BKG":-1,"LPT":-0.6,"SGO":-1.5,"UPA":0.5},
{"t":"2020-01-21","ASI":1.2,"BKG":1.8,"LPT":0.5,"SGO":2.2,"UPA":-2.2},
{"t":"2020-01-26","ASI":-5.6,"BKG":-1.6,"LPT":-0.8,"SGO":-2.3,"UPA":0.6},
{"t":"2020-01-31","ASI":2.4,"BKG":2.1,"LPT":0.6,"SGO":1.7,"UPA":-1.9},
{"t":"2020-02-05","ASI":-8.4,"BKG":-3.7,"LPT":-0.9,"SGO":-1.5,"UPA":0.6},
{"t":"2020-02-10","ASI":1.8,"BKG":2.6,"LPT":1,"SGO":0.8,"UPA":-2.4},
{"t":"2020-02-15","ASI":-3.5,"BKG":-1.4,"LPT":-1,"SGO":-3.2,"UPA":0.8},
{"t":"2020-02-20","ASI":1.6,"BKG":2.7,"LPT":1.2,"SGO":1,"UPA":-1.9},
{"t":"2020-02-25","ASI":-4.3,"BKG":-1.2,"LPT":-1.1,"SGO":-2.5,"UPA":0.5},
{"t":"2020-03-01","ASI":1.4,"BKG":3.6,"LPT":0.8,"SGO":3.8,"UPA":-2.4},
{"t":"2020-03-06","ASI":-8.2,"BKG":-4.3,"LPT":-0.9,"SGO":0.9,"UPA":1},
{"t":"2020-03-11","ASI":-4.5,"BKG":0.9,"LPT":0.7,"SGO":1.6,"UPA":-1.3},
{"t":"2020-03-16","ASI":2.6,"BKG":3.7,"LPT":-1,"SGO":-0.9,"UPA":0.6},
{"t":"2020-03-21","ASI":-4.9,"BKG":1,"LPT":0.3,"SGO":0.8,"UPA":-1},
{"t":"2020-03-26","ASI":-10.4,"BKG":3.6,"LPT":-1,"SGO":-1.8,"UPA":0.9},
{"t":"2020-03-31","ASI":1.5,"BKG":-1,"LPT":0.4,"SGO":0.5,"UPA":-1.8},
{"t":"2020-04-05","ASI":-6.5,"BKG":1.8,"LPT":-0.9,"SGO":-2.9,"UPA":0.7},
{"t":"2020-04-10","ASI":2.6,"BKG":2.2,"LPT":0.4,"SGO":0.8,"UPA":-1},
{"t":"2020-04-15","ASI":-9.4,"BKG":-1.2,"LPT":-0.5,"SGO":-1.2,"UPA":1},
{"t":"2020-04-20","ASI":2.2,"BKG":2.6,"LPT":0.4,"SGO":3.8,"UPA":-1.6},
{"t":"2020-04-25","ASI":-6.8,"BKG":1.4,"LPT":-0.8,"SGO":-1.9,"UPA":0.6},
{"t":"2020-04-30","ASI":3.3,"BKG":-1.4,"LPT":0.4,"SGO":1.2,"UPA":-1.4},
{"t":"2020-05-05","ASI":-6.4,"BKG":1.5,"LPT":-0.5,"SGO":3.7,"UPA":1.2},
{"t":"2020-05-10","ASI":2.5,"BKG":-2,"LPT":0.4,"SGO":-4.5,"UPA":-2},
{"t":"2020-05-15","ASI":-4,"BKG":1.7,"LPT":-0.5,"SGO":1,"UPA":0.7},
{"t":"2020-05-20","ASI":6.1,"BKG":-2.9,"LPT":0.5,"SGO":5.7,"UPA":-1.2},
{"t":"2020-05-25","ASI":-7.2,"BKG":2.6,"LPT":-1,"SGO":-1,"UPA":0.6},
{"t":"2020-05-30","ASI":1.6,"BKG":-1,"LPT":0.5,"SGO":2.7,"UPA":-2.2},
{"t":"2020-06-04","ASI":-10.6,"BKG":4.9,"LPT":-1.2,"SGO":-1.2,"UPA":0.7},
{"t":"2020-06-09","ASI":-8,"BKG":3,"LPT":0.6,"SGO":3.1,"UPA":-1.9},
{"t":"2020-06-14","ASI":2.2,"BKG":6.2,"LPT":-1,"SGO":-1.4,"UPA":1.3},
{"t":"2020-06-19","ASI":-9.4,"BKG":4.4,"LPT":0.8,"SGO":2.8,"UPA":-1.6},
{"t":"2020-06-24","ASI":-6,"BKG":-3.2,"LPT":-1.6,"SGO":5.6,"UPA":3.2},
{"t":"2020-06-29","ASI":-8.9,"BKG":1.4,"LPT":0.6,"SGO":-2.4,"UPA":2},
{"t":"2020-07-04","ASI":2,"BKG":-1.8,"LPT":4.1,"SGO":3.6,"UPA":-3.3},
{"t":"2020-07-09","ASI":-7.5,"BKG":1,"LPT":-1.2,"SGO":-10.1,"UPA":0.7},
{"t":"2020-07-10","ASI":-4.5,"BKG":-3.2,"LPT":1.6,"SGO":1.2,"UPA":-1},
{"t":"2020-07-11","ASI":null,"BKG":null,"LPT":null,"SGO":null,"UPA":null},
{"t":"2020-07-12","ASI":0.7,"BKG":1.7,"LPT":0.3,"SGO":1,"UPA":0.5},
{"t":"2020-07-14","ASI":-5.8,"BKG":-1.4,"LPT":-1,"SGO":2.7,"UPA":-1.5},
{"t":"2020-07-19","ASI":2.7,"BKG":2.4,"LPT":0.7,"SGO":-2.2,"UPA":1.4},
{"t":"2020-07-24","ASI":-7.8,"BKG":-0.9,"LPT":-1.2,"SGO":1.6,"UPA":-1.5},
{"t":"2020-07-29","ASI":4.4,"BKG":2.2,"LPT":0.5,"SGO":-0.8,"UPA":1.1},
{"t":"2020-08-03","ASI":-8.2,"BKG":-1.9,"LPT":-0.7,"SGO":1.2,"UPA":-2.7},
{"t":"2020-08-08","ASI":-11.4,"BKG":2.9,"LPT":-1.4,"SGO":-1.2,"UPA":1.5},
{"t":"2020-08-13","ASI":3.6,"BKG":-3.7,"LPT":0.7,"SGO":-2.9,"UPA":1.9},
{"t":"2020-08-18","ASI":-6.4,"BKG":1.6,"LPT":-2,"SGO":3.2,"UPA":-1.4},
{"t":"2020-08-23","ASI":9.2,"BKG":-5.7,"LPT":1,"SGO":2.2,"UPA":1.3},
{"t":"2020-08-28","ASI":-9,"BKG":5.4,"LPT":-2.8,"SGO":-1.4,"UPA":-1.4},
{"t":"2020-09-02","ASI":2.4,"BKG":-2,"LPT":1.2,"SGO":3.3,"UPA":1.2},
{"t":"2020-09-07","ASI":-6.8,"BKG":1.8,"LPT":-3.3,"SGO":-1,"UPA":-2},
{"t":"2020-09-12","ASI":3.4,"BKG":-5.8,"LPT":0.7,"SGO":4,"UPA":0.9},
{"t":"2020-09-17","ASI":-7,"BKG":2.2,"LPT":-1.5,"SGO":-2,"UPA":-3.4},
{"t":"2020-09-22","ASI":5.3,"BKG":4,"LPT":0.4,"SGO":3.4,"UPA":1.2},
{"t":"2020-09-27","ASI":-8.3,"BKG":-2,"LPT":-2.6,"SGO":-1.2,"UPA":-1.4},
{"t":"2020-10-02","ASI":10.3,"BKG":2.8,"LPT":0.6,"SGO":4.8,"UPA":1.7},
{"t":"2020-10-07","ASI":3.2,"BKG":-3.2,"LPT":-1,"SGO":4.8,"UPA":-2.8},
{"t":"2020-10-12","ASI":-8.8,"BKG":4.5,"LPT":1.2,"SGO":-3.5,"UPA":3.4},
{"t":"2020-10-17","ASI":2.4,"BKG":3.8,"LPT":-0.9,"SGO":1.4,"UPA":-5.4},
{"t":"2020-10-22","ASI":-7,"BKG":-2.1,"LPT":1.2,"SGO":3.8,"UPA":1.4},
{"t":"2020-10-27","ASI":-8.3,"BKG":2.5,"LPT":-0.9,"SGO":-1.5,"UPA":-1.2},
{"t":"2020-11-01","ASI":3,"BKG":-1.6,"LPT":2.4,"SGO":1.6,"UPA":1},
{"t":"2020-11-06","ASI":-9.7,"BKG":3.2,"LPT":-0.7,"SGO":-1.2,"UPA":-1.6},
{"t":"2020-11-11","ASI":6.1,"BKG":-1.4,"LPT":1.4,"SGO":1.2,"UPA":0.7},
{"t":"2020-11-13","ASI":-11,"BKG":3.3,"LPT":-1.5,"SGO":-1.4,"UPA":-1.3},
{"t":"2020-11-16","ASI":3.7,"BKG":-3.5,"LPT":1,"SGO":3.3,"UPA":0.5},
{"t":"2020-11-20","ASI":5.2,"BKG":1.4,"LPT":-0.7,"SGO":-1.6,"UPA":-0.9}
]
},
"vconcat":[
{"width":3000,"height":600,
"layer":[
{"data":{"name":"north"},"transform":[{"fold":["ASI","BKG","LPT","SGO","UPA"],"as":["ac","mm"]}],
"mark":{"type":"line","strokeWidth":7.5,"strokeJoin":"bevel"},
"encoding":{
"x":{"field":"t","type":"temporal","title":null,"scale":{"domain":[{"year":2019,"month":1,"date":1},{"year":2024,"month":1,"date":27}]},"axis":{"orient":"bottom","tickCount":{"interval":"month","step":1},"labels":false,"tickSize":12,"tickWidth":2.5,"title":null}},
"y":{"field":"mm","type":"quantitative","scale":{"domain":[-20,20],"nice":false},"axis":{"orient":"left","values":[-20,-15,-10,-5,0,5,10,15,20],"tickSize":22,"tickWidth":3,"labelFont":"Liberation Sans","labelFontSize":47,"labelPadding":21,"title":"North [mm]","titleFont":"Liberation Sans","titleFontSize":67.5,"titleFontWeight":"normal","titleColor":"black","titleX":-159,"titleY":309,"titleBaseline":"alphabetic"}},
"color":{"field":"ac","type":"nominal","scale":{"domain":["ASI","BKG","LPT","SGO","UPA"],"range":["#00FFFF","#0000FF","#10A810","#FF9900","#E0001E"]},"legend":{"orient":"none","legendX":69,"legendY":3,"direction":"horizontal","columns":5,"gridAlign":"all","title":null,"symbolType":"stroke","symbolSize":8281,"symbolStrokeWidth":9,"labelFont":"Liberation Sans","labelFontSize":50,"labelColor":"black","labelOffset":71,"columnPadding":133,"padding":0}}
}},
{"data":{"values":[{"mm":0}]},"mark":{"type":"rule","strokeWidth":3,"color":"black"},"encoding":{"y":{"field":"mm","type":"quantitative","scale":{"domain":[-20,20],"nice":false},"axis":null}}},
{"data":{"values":[{"mm":13.33}]},"mark":{"type":"rule","strokeWidth":4,"color":"black"},"encoding":{"y":{"field":"mm","type":"quantitative","scale":{"domain":[-20,20],"nice":false},"axis":null}}},
{"data":{"values":[{"t":"2022-11-27","mm":-20,"mm2":13.33}]},"mark":{"type":"rule","strokeWidth":11,"color":"black"},
"encoding":{
"x":{"field":"t","type":"temporal","scale":{"domain":[{"year":2019,"month":1,"date":1},{"year":2024,"month":1,"date":27}]},"axis":{"orient":"bottom","tickCount":{"interval":"year","step":1},"labels":false,"tickSize":63,"tickWidth":2.5,"title":null}},
"y":{"field":"mm","type":"quantitative","scale":{"domain":[-20,20],"nice":false},"axis":{"orient":"right","values":[-20,-15,-10,-5,0,5,10,15,20],"tickSize":22,"tickWidth":3,"labels":false,"title":null}},
"y2":{"field":"mm2"}}},
{"data":{"name":"box"},"mark":{"type":"rect","fill":"white","stroke":"#FF0000","strokeWidth":3.5},
"encoding":{
"x":{"field":"t","type":"temporal","scale":{"domain":[{"year":2019,"month":1,"date":1},{"year":2024,"month":1,"date":27}]},"axis":{"orient":"bottom","values":[{"year":2019,"month":7,"date":2},{"year":2020,"month":7,"date":2},{"year":2021,"month":7,"date":2},{"year":2022,"month":7,"date":2},{"year":2023,"month":7,"date":2}],"format":"%Y","tickSize":0,"labelFont":"Liberation Sans","labelFontSize":57,"labelPadding":80,"labelFlush":false,"labelOverlap":false,"title":null}},
"x2":{"field":"t2"},
"y":{"field":"mm","type":"quantitative","scale":{"domain":[-20,20],"nice":false},"axis":null},
"y2":{"field":"mm2"}}},
{"data":{"name":"box"},"mark":{"type":"text","font":"Liberation Sans","fontSize":50,"color":"black","baseline":"middle","align":"center"},
"encoding":{"x":{"field":"x0","type":"temporal","axis":null,"scale":{"domain":[{"year":2019,"month":1,"date":1},{"year":2024,"month":1,"date":27}]}},"y":{"field":"y0","type":"quantitative","axis":null,"scale":{"domain":[-20,20],"nice":false}},"text":{"field":"label"}}},
{"data":{"values":[{"t":"2024-01-08","mm":27.87,"note":"Update: Sat Jan 27 23:23:20 CET 2024; Last solutions for GPS Week 2292"}]},"mark":{"type":"text","font":"Liberation Serif","fontSize":50.2,"color":"#8B1A1A","align":"right","baseline":"alphabetic"},
"encoding":{"x":{"field":"t","type":"temporal","axis":null,"scale":{"domain":[{"year":2019,"month":1,"date":1},{"year":2024,"month":1,"date":27}]}},"y":{"field":"mm","type":"quantitative","axis":null,"scale":{"domain":[-20,20],"nice":false}},"text":{"field":"note"}}},
{"data":{"values":[{"t":"2021-07-15","mm":21.8,"heading":"Long−term agreement between individual EPN AC solutions: station UNTR00ITA"}]},"mark":{"type":"text","font":"Liberation Serif","fontSize":83.5,"color":"black","align":"center","baseline":"alphabetic"},
"encoding":{"x":{"field":"t","type":"temporal","axis":null,"scale":{"domain":[{"year":2019,"month":1,"date":1},{"year":2024,"month":1,"date":27}]}},"y":{"field":"mm","type":"quantitative","axis":null,"scale":{"domain":[-20,20],"nice":false}},"text":{"field":"heading"}}}
],
"resolve":{"axis":{"x":"independent","y":"independent"}}},
{"width":3000,"height":600,
"layer":[
{"data":{"name":"east"},"transform":[{"fold":["ASI","BKG","LPT","SGO","UPA"],"as":["ac","mm"]}],
"mark":{"type":"line","strokeWidth":7.5,"strokeJoin":"bevel"},
"encoding":{
"x":{"field":"t","type":"temporal","title":null,"scale":{"domain":[{"year":2019,"month":1,"date":1},{"year":2024,"month":1,"date":27}]},"axis":{"orient":"bottom","tickCount":{"interval":"month","step":1},"labels":false,"tickSize":12,"tickWidth":2.5,"title":null}},
"y":{"field":"mm","type":"quantitative","scale":{"domain":[-20,20],"nice":false},"axis":{"orient":"left","values":[-20,-15,-10,-5,0,5,10,15,20],"tickSize":22,"tickWidth":3,"labelFont":"Liberation Sans","labelFontSize":47,"labelPadding":21,"title":"East [mm]","titleFont":"Liberation Sans","titleFontSize":67.5,"titleFontWeight":"normal","titleColor":"black","titleX":-159,"titleY":309,"titleBaseline":"alphabetic"}},
"color":{"field":"ac","type":"nominal","scale":{"domain":["ASI","BKG","LPT","SGO","UPA"],"range":["#00FFFF","#0000FF","#10A810","#FF9900","#E0001E"]},"legend":null}
}},
{"data":{"values":[{"mm":0}]},"mark":{"type":"rule","strokeWidth":3,"color":"black"},"encoding":{"y":{"field":"mm","type":"quantitative","scale":{"domain":[-20,20],"nice":false},"axis":null}}},
{"data":{"values":[{"t":"2022-11-27","mm":-20,"mm2":20}]},"mark":{"type":"rule","strokeWidth":11,"color":"black"},
"encoding":{
"x":{"field":"t","type":"temporal","scale":{"domain":[{"year":2019,"month":1,"date":1},{"year":2024,"month":1,"date":27}]},"axis":{"orient":"bottom","tickCount":{"interval":"year","step":1},"labels":false,"tickSize":63,"tickWidth":2.5,"title":null}},
"y":{"field":"mm","type":"quantitative","scale":{"domain":[-20,20],"nice":false},"axis":{"orient":"right","values":[-20,-15,-10,-5,0,5,10,15,20],"tickSize":22,"tickWidth":3,"labels":false,"title":null}},
"y2":{"field":"mm2"}}},
{"data":{"name":"box"},"mark":{"type":"rect","fill":"white","stroke":"#FF0000","strokeWidth":3.5},
"encoding":{
"x":{"field":"t","type":"temporal","scale":{"domain":[{"year":2019,"month":1,"date":1},{"year":2024,"month":1,"date":27}]},"axis":{"orient":"bottom","values":[{"year":2019,"month":7,"date":2},{"year":2020,"month":7,"date":2},{"year":2021,"month":7,"date":2},{"year":2022,"month":7,"date":2},{"year":2023,"month":7,"date":2}],"format":"%Y","tickSize":0,"labelFont":"Liberation Sans","labelFontSize":57,"labelPadding":80,"labelFlush":false,"labelOverlap":false,"title":null}},
"x2":{"field":"t2"},
"y":{"field":"mm","type":"quantitative","scale":{"domain":[-20,20],"nice":false},"axis":null},
"y2":{"field":"mm2"}}},
{"data":{"name":"box"},"mark":{"type":"text","font":"Liberation Sans","fontSize":50,"color":"black","baseline":"middle","align":"center"},
"encoding":{"x":{"field":"x0","type":"temporal","axis":null,"scale":{"domain":[{"year":2019,"month":1,"date":1},{"year":2024,"month":1,"date":27}]}},"y":{"field":"y0","type":"quantitative","axis":null,"scale":{"domain":[-20,20],"nice":false}},"text":{"field":"label"}}}
],
"resolve":{"axis":{"x":"independent","y":"independent"}}},
{"width":3000,"height":600,
"layer":[
{"data":{"name":"up"},"transform":[{"fold":["ASI","BKG","LPT","SGO","UPA"],"as":["ac","mm"]}],
"mark":{"type":"line","strokeWidth":7.5,"strokeJoin":"bevel"},
"encoding":{
"x":{"field":"t","type":"temporal","title":null,"scale":{"domain":[{"year":2019,"month":1,"date":1},{"year":2024,"month":1,"date":27}]},"axis":{"orient":"bottom","tickCount":{"interval":"month","step":1},"labels":false,"tickSize":12,"tickWidth":2.5,"title":null}},
"y":{"field":"mm","type":"quantitative","scale":{"domain":[-20,20],"nice":false},"axis":{"orient":"left","values":[-20,-15,-10,-5,0,5,10,15,20],"tickSize":22,"tickWidth":3,"labelFont":"Liberation Sans","labelFontSize":47,"labelPadding":21,"title":"Up [mm]","titleFont":"Liberation Sans","titleFontSize":67.5,"titleFontWeight":"normal","titleColor":"black","titleX":-159,"titleY":309,"titleBaseline":"alphabetic"}},
"color":{"field":"ac","type":"nominal","scale":{"domain":["ASI","BKG","LPT","SGO","UPA"],"range":["#00FFFF","#0000FF","#10A810","#FF9900","#E0001E"]},"legend":null}
}},
{"data":{"values":[{"mm":0}]},"mark":{"type":"rule","strokeWidth":3,"color":"black"},"encoding":{"y":{"field":"mm","type":"quantitative","scale":{"domain":[-20,20],"nice":false},"axis":null}}},
{"data":{"values":[{"t":"2022-11-27","mm":-20,"mm2":20}]},"mark":{"type":"rule","strokeWidth":11,"color":"black"},
"encoding":{
"x":{"field":"t","type":"temporal","scale":{"domain":[{"year":2019,"month":1,"date":1},{"year":2024,"month":1,"date":27}]},"axis":{"orient":"bottom","tickCount":{"interval":"year","step":1},"labels":false,"tickSize":63,"tickWidth":2.5,"title":null}},
"y":{"field":"mm","type":"quantitative","scale":{"domain":[-20,20],"nice":false},"axis":{"orient":"right","values":[-20,-15,-10,-5,0,5,10,15,20],"tickSize":22,"tickWidth":3,"labels":false,"title":null}},
"y2":{"field":"mm2"}}},
{"data":{"name":"box"},"mark":{"type":"rect","fill":"white","stroke":"#FF0000","strokeWidth":3.5},
"encoding":{
"x":{"field":"t","type":"temporal","scale":{"domain":[{"year":2019,"month":1,"date":1},{"year":2024,"month":1,"date":27}]},"axis":{"orient":"bottom","values":[{"year":2019,"month":7,"date":2},{"year":2020,"month":7,"date":2},{"year":2021,"month":7,"date":2},{"year":2022,"month":7,"date":2},{"year":2023,"month":7,"date":2}],"format":"%Y","tickSize":0,"labelFont":"Liberation Sans","labelFontSize":57,"labelPadding":80,"labelFlush":false,"labelOverlap":false,"title":null}},
"x2":{"field":"t2"},
"y":{"field":"mm","type":"quantitative","scale":{"domain":[-20,20],"nice":false},"axis":null},
"y2":{"field":"mm2"}}},
{"data":{"name":"box"},"mark":{"type":"text","font":"Liberation Sans","fontSize":50,"color":"black","baseline":"middle","align":"center"},
"encoding":{"x":{"field":"x0","type":"temporal","axis":null,"scale":{"domain":[{"year":2019,"month":1,"date":1},{"year":2024,"month":1,"date":27}]}},"y":{"field":"y0","type":"quantitative","axis":null,"scale":{"domain":[-20,20],"nice":false}},"text":{"field":"label"}}}
],
"resolve":{"axis":{"x":"independent","y":"independent"}}}
]
}
